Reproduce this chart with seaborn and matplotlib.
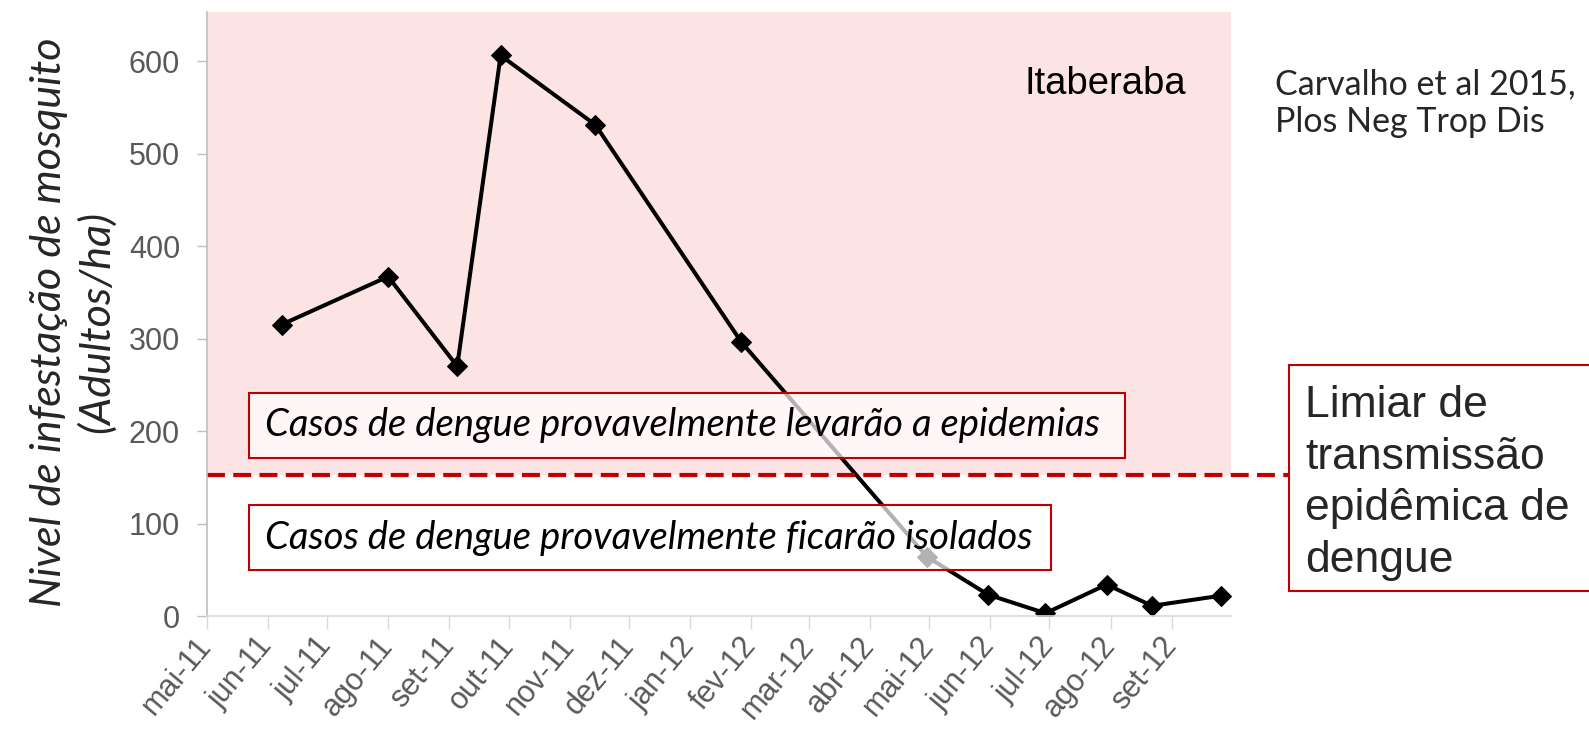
import matplotlib
matplotlib.use("Agg")
import matplotlib.pyplot as plt
import matplotlib.patches as patches
import seaborn as sns
import pandas as pd

# data
dates = ["2011-06-08", "2011-08-01", "2011-09-05", "2011-09-27", "2011-11-14",
         "2012-01-27", "2012-04-30", "2012-05-31", "2012-06-29", "2012-07-30",
         "2012-08-22", "2012-09-26"]
adults_ha = [315, 367, 270, 606, 531, 296, 64, 23, 3, 34, 11, 22]
threshold = 152
tick_labels = ["mai-11", "jun-11", "jul-11", "ago-11", "set-11", "out-11", "nov-11",
               "dez-11", "jan-12", "fev-12", "mar-12", "abr-12", "mai-12", "jun-12",
               "jul-12", "ago-12", "set-12"]

W, H = 1589, 740


def fx(px):
    return px / W


def fy(py):
    return 1 - py / H


df = pd.DataFrame({"date": pd.to_datetime(dates), "value": adults_ha})

sns.set_theme(style="white")
plt.rcParams["font.family"] = ["Liberation Sans", "DejaVu Sans"]
calibri = ["Lato", "DejaVu Sans"]

fig = plt.figure(figsize=(W / 100, H / 100), dpi=100)
ax = fig.add_axes([fx(206.5), fy(616), fx(1231 - 206.5), (616 - 12) / H])

# epidemic zone shading
ax.axhspan(threshold, 700, color="#FCE4E5", zorder=0, lw=0)

sns.lineplot(data=df, x="date", y="value", ax=ax, color="black", lw=2.9,
             marker="D", markersize=10, markeredgecolor="black", zorder=2)

ax.set_xlim(pd.Timestamp("2011-05-01"), pd.Timestamp("2012-10-01"))
ax.set_ylim(0, 653)

ticks = pd.date_range("2011-05-01", "2012-09-01", freq="MS")
ax.set_xticks(ticks)
ax.set_xticklabels(tick_labels, rotation=50, ha="right", va="center",
                   rotation_mode="anchor")
ax.set_yticks(range(0, 601, 100))
ax.tick_params(axis="y", length=7, width=1, color="#BFBFBF", pad=12,
               labelsize=22, labelcolor="#595959")
ax.tick_params(axis="x", length=9, width=1, color="#D9D9D9", pad=9,
               labelsize=22, labelcolor="#595959")
ax.tick_params(left=True, bottom=True)
ax.set_xlabel("")
ax.set_ylabel("")
for s in ["top", "right"]:
    ax.spines[s].set_visible(False)
ax.spines["left"].set_color("#BFBFBF")
ax.spines["bottom"].set_color("#D9D9D9")
ax.spines["left"].set_linewidth(1.2)
ax.spines["bottom"].set_linewidth(1.2)

# threshold line, running out to the side box
ax.axhline(threshold, xmin=0, xmax=(1289 - 206.5) / (1231 - 206.5), color="#C00000",
           lw=3, ls=(0, (4.3, 2.0)), clip_on=False, zorder=2.5)

# annotation boxes
for (x0, y0, x1, y1), txt in [((249, 393, 1125, 458), "Casos de dengue provavelmente levarão a epidemias"),
                              ((249, 505, 1051, 570), "Casos de dengue provavelmente ficarão isolados")]:
    rect = patches.Rectangle((fx(x0), fy(y1)), fx(x1 - x0), (y1 - y0) / H,
                             transform=fig.transFigure, facecolor=(1, 1, 1, 0.7),
                             edgecolor="#C00000", lw=1.5, clip_on=False, zorder=3)
    ax.add_patch(rect)
    ax.text(fx(x0 + 16), fy((y0 + y1) / 2), txt, transform=fig.transFigure,
            ha="left", va="center", fontsize=27.5, style="italic",
            family=calibri, color="black", zorder=4)

ax.text(fx(1186), fy(94), "Itaberaba", transform=fig.transFigure, ha="right",
        va="baseline", fontsize=27.5, color="black")

fig.text(fx(1275), fy(68), "Carvalho et al 2015,\nPlos Neg Trop Dis", ha="left",
         va="top", fontsize=24.5, family=calibri, linespacing=1.22)

side = patches.Rectangle((fx(1289), fy(591)), fx(400), (591 - 365) / H,
                         transform=fig.transFigure, facecolor="white",
                         edgecolor="#C00000", lw=1.5)
fig.patches.append(side)
fig.text(fx(1305), fy(385), "Limiar de\ntransmissão\nepidêmica de\ndengue", ha="left",
         va="top", fontsize=32, linespacing=1.33)

fig.text(fx(73), fy(322), "Nivel de infestação de mosquito\n(Adultos/ha)", rotation=90,
         ha="center", va="center", multialignment="center", fontsize=31,
         style="italic", family=calibri, linespacing=1.25)

fig.savefig("out.png", dpi=100)
plt.close(fig)
